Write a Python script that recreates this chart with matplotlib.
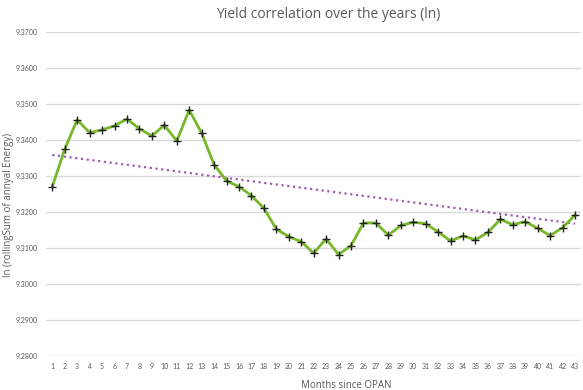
import numpy as np
import matplotlib
matplotlib.use("Agg")
import matplotlib.pyplot as plt

months = list(range(1, 44))
values = [9.3270, 9.3374, 9.3456, 9.3420, 9.3428, 9.3439, 9.3458, 9.3431, 9.3411, 9.3441,
          9.3397, 9.3483, 9.3419, 9.3331, 9.3286, 9.3270, 9.3245, 9.3210, 9.3152, 9.3131,
          9.3117, 9.3085, 9.3125, 9.3081, 9.3106, 9.3169, 9.3169, 9.3135, 9.3162, 9.3171,
          9.3167, 9.3144, 9.3119, 9.3133, 9.3122, 9.3143, 9.3179, 9.3164, 9.3173, 9.3154,
          9.3134, 9.3156, 9.3191]
trend_x = [1, 43]
trend_y = [9.3358, 9.3167]
yticks = [9.28, 9.29, 9.30, 9.31, 9.32, 9.33, 9.34, 9.35, 9.36, 9.37]
title = "Yield correlation over the years (ln)"
xlabel = "Months since OPAN"
ylabel = "ln (rollingSum of annyal Energy)"

plt.rcParams['font.family'] = ['Open Sans', 'DejaVu Sans']
fig = plt.figure(figsize=(5.83, 3.9), dpi=100)
ax = fig.add_axes([0.079, 0.088, 0.918, 0.830])

ax.plot(trend_x, trend_y, color='#9b5fb5', lw=1.6, ls=(0, (1, 1.6)), zorder=2)
ax.plot(months, values, color='#77b82a', lw=2.0, marker='+', markersize=6,
        markeredgecolor='#222222', markeredgewidth=1.0, zorder=3)

ax.set_xlim(0.5, 43.5)
ax.set_ylim(9.28, 9.37)
ax.set_yticks(yticks)
ax.set_yticklabels([f"{v:.4f}" for v in yticks])
ax.set_xticks(months)
ax.set_xticklabels([str(m) for m in months])
ax.grid(axis='y', color='#d9d9d9', lw=1)
ax.set_axisbelow(True)
for s in ax.spines.values():
    s.set_visible(False)
ax.tick_params(axis='both', length=0, labelsize=5, colors='#595959')
for lab in ax.get_yticklabels() + ax.get_xticklabels():
    lab.set_family(['Lato', 'DejaVu Sans'])
ax.tick_params(axis='x', pad=5)
ax.tick_params(axis='y', pad=6)

fig.text(0.563, 0.963, title, ha='center', va='center', fontsize=10, color='#595959')
fig.text(0.594, 0.012, xlabel, ha='center', va='center', fontsize=7, color='#595959')
fig.text(0.014, 0.474, ylabel, ha='center', va='center', rotation=90, fontsize=7, color='#595959')

fig.savefig("out.png", dpi=100)
